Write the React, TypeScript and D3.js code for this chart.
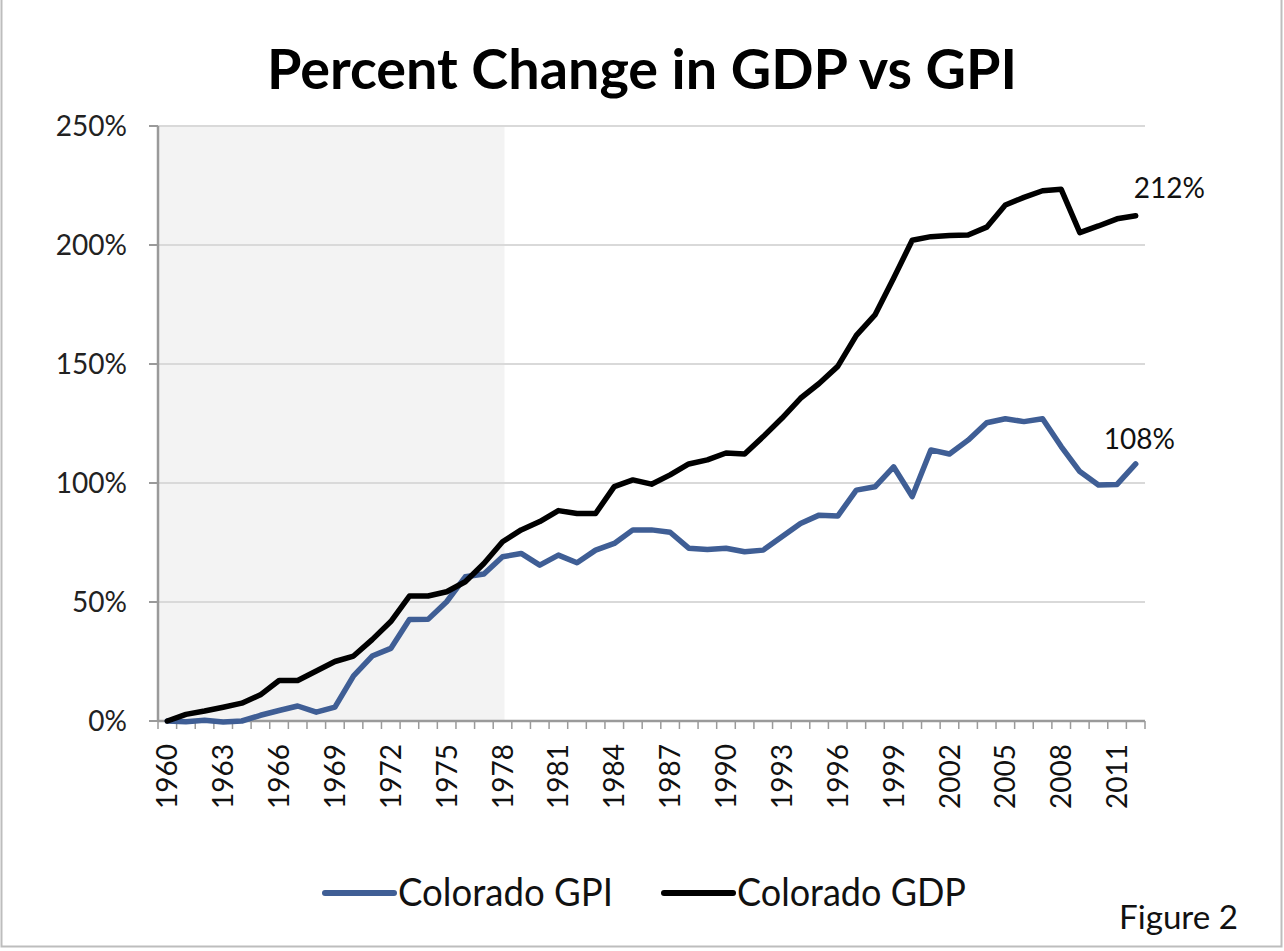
import * as d3 from "d3";
import React from "react";

const years = d3.range(1960, 2013);

// percent change since 1960
const gpi = [
  0, -0.3, 0.3, -0.4, 0, 2.4, 4.4, 6.3, 3.7, 5.8,
  19, 27.3, 30.5, 42.6, 42.7, 50.1, 60.6, 61.8, 69, 70.4,
  65.5, 69.7, 66.5, 71.8, 74.6, 80.3, 80.3, 79.3, 72.6, 72.1,
  72.6, 71.1, 71.8, 77.4, 83, 86.5, 86.1, 97, 98.4, 106.8,
  94.3, 113.9, 112.2, 118, 125.3, 127, 125.8, 127, 115.3, 104.8,
  99.2, 99.4, 108
];

const gdp = [
  0, 2.8, 4.2, 5.8, 7.5, 11, 17, 17, 21, 25,
  27.3, 34.2, 41.8, 52.5, 52.5, 54.3, 58.5, 66.2, 75.3, 80.3,
  83.8, 88.4, 87.2, 87.2, 98.5, 101.3, 99.5, 103.4, 108, 109.7,
  112.6, 112.2, 119.5, 127.2, 135.6, 141.8, 149, 162, 170.6, 186,
  202, 203.5, 204, 204.2, 207.5, 216.8, 220, 222.8, 223.4, 205.2,
  208, 211, 212.3
];

const yTicks = [0, 50, 100, 150, 200, 250];
const xLabelYears = d3.range(1960, 2013, 3);
const shadeEndYear = 1978;

const series = [
  { name: "Colorado GPI", values: gpi, color: "#3F5E95", end: "108%" },
  { name: "Colorado GDP", values: gdp, color: "#000000", end: "212%" }
];

const W = 1284;
const H = 951;
const left = 158;
const right = 1145;
const top = 126;
const bottom = 721;
const font = "Lato, 'Open Sans', sans-serif";

export default function App() {
  const x = d3.scaleBand<number>().domain(years).range([left, right]).padding(0);
  const bw = x.bandwidth();
  const cx = (yr: number) => (x(yr) as number) + bw / 2;
  const y = d3.scaleLinear().domain([0, 250]).range([bottom, top]);

  const line = d3
    .line<number>()
    .x((_, i) => cx(years[i]))
    .y((d) => y(d));

  const boundaries = d3.range(years.length + 1).map((i) => left + i * bw);

  return (
    <svg
      width={W}
      height={H}
      style={{ position: "absolute", left: 0, top: 0, background: "#fff" }}
    >
      <rect x={1.5} y={-2} width={W - 4} height={H - 2.5} fill="#fff" stroke="#bdbdbd" strokeWidth={2} />

      <text
        x={642}
        y={89}
        textAnchor="middle"
        fontFamily={font}
        fontWeight={700}
        fontSize={56}
        textLength={750}
        lengthAdjust="spacingAndGlyphs"
      >
        Percent Change in GDP vs GPI
      </text>

      {/* shaded period */}
      <rect
        x={left}
        y={top}
        width={cx(shadeEndYear) + 2 - left}
        height={bottom - top}
        fill="#f3f3f3"
      />

      {yTicks.map((t) => (
        <g key={t}>
          {t > 0 && (
            <line x1={left} x2={right} y1={y(t)} y2={y(t)} stroke="#d9d9d9" strokeWidth={2} />
          )}
          <line x1={left - 9} x2={left} y1={y(t)} y2={y(t)} stroke="#9a9a9a" strokeWidth={2} />
          <text
            x={127}
            y={y(t) + 9.5}
            textAnchor="end"
            fontFamily={font}
            fontSize={28}
            fill="#222"
          >
            {t}%
          </text>
        </g>
      ))}

      <line x1={left} x2={left} y1={top} y2={bottom} stroke="#9a9a9a" strokeWidth={2.5} />
      <line x1={left} x2={right} y1={bottom} y2={bottom} stroke="#9a9a9a" strokeWidth={2.5} />
      {boundaries.map((b, i) => (
        <line key={i} x1={b} x2={b} y1={bottom} y2={bottom + 8} stroke="#9a9a9a" strokeWidth={1.5} />
      ))}

      {xLabelYears.map((yr) => (
        <text
          key={yr}
          transform={`translate(${cx(yr)},${744}) rotate(-90)`}
          textAnchor="end"
          dy="0.36em"
          fontFamily={font}
          fontSize={28}
          fill="#111"
        >
          {yr}
        </text>
      ))}

      {series.map((s) => (
        <path
          key={s.name}
          d={line(s.values) as string}
          fill="none"
          stroke={s.color}
          strokeWidth={5.5}
          strokeLinejoin="round"
          strokeLinecap="round"
        />
      ))}

      <text
        x={cx(2012) - 2}
        y={y(gdp[gdp.length - 1]) - 18}
        fontFamily={font}
        fontSize={28}
        fill="#111"
      >
        {series[1].end}
      </text>
      <text
        x={cx(2012) - 32}
        y={y(gpi[gpi.length - 1]) - 15}
        fontFamily={font}
        fontSize={28}
        fill="#111"
      >
        {series[0].end}
      </text>

      {/* legend */}
      {series.map((s, i) => {
        const lx = i === 0 ? 325 : 664;
        return (
          <g key={s.name}>
            <line x1={lx} x2={lx + 69} y1={893} y2={893} stroke={s.color} strokeWidth={6} strokeLinecap="round" />
            <text
              x={lx + 73}
              y={906}
              fontFamily={font}
              fontSize={38}
              textLength={i === 0 ? 215 : 229}
              lengthAdjust="spacingAndGlyphs"
              fill="#111"
            >
              {s.name}
            </text>
          </g>
        );
      })}

      <text
        x={1119}
        y={929}
        fontFamily={font}
        fontSize={32}
        textLength={119}
        lengthAdjust="spacingAndGlyphs"
        fill="#111"
      >
        Figure 2
      </text>
    </svg>
  );
}
